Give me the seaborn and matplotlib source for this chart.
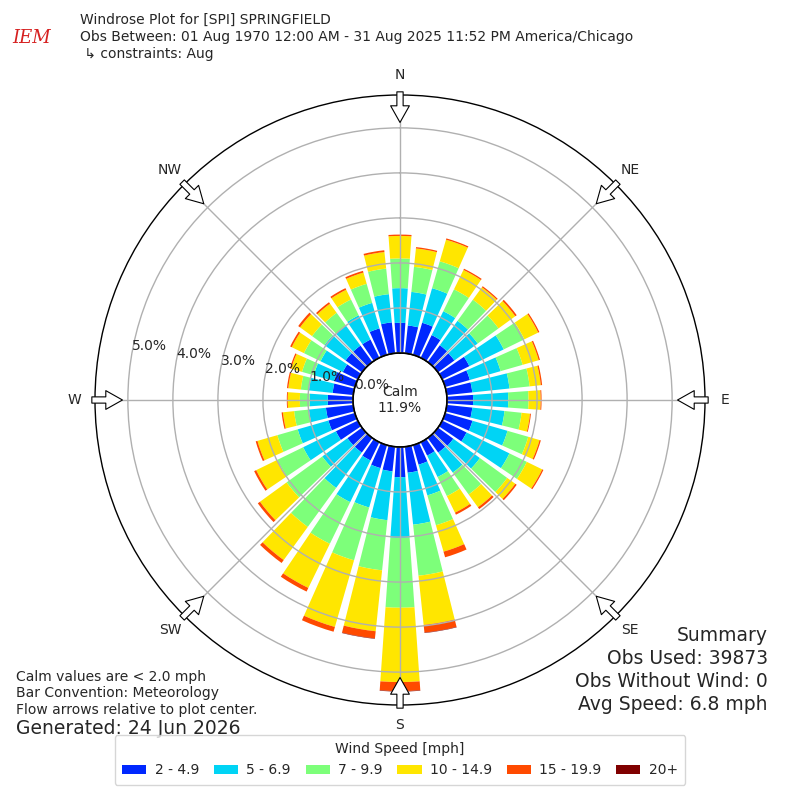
import numpy as np
import matplotlib
matplotlib.use("Agg")
import matplotlib.pyplot as plt
from matplotlib.patches import Patch, Circle
import seaborn as sns

# wind direction bins (deg, meteorological: direction wind comes from)
directions = np.arange(0, 360, 10)

# frequency (%) per speed class
speed_2_5 = [0.67, 0.62, 0.74, 0.56, 0.46, 0.45, 0.67, 0.57, 0.57, 0.58,
             0.57, 0.63, 0.60, 0.42, 0.40, 0.33, 0.45, 0.58, 0.67,
             0.55, 0.53, 0.45, 0.40, 0.40, 0.54, 0.61, 0.61, 0.56,
             0.46, 0.48, 0.37, 0.45, 0.45, 0.45, 0.61, 0.69]
speed_5_7 = [0.77, 0.75, 0.80, 0.59, 0.67, 0.64, 0.85, 0.71, 0.83, 0.78,
             0.72, 0.81, 1.06, 0.73, 0.55, 0.53, 0.71, 1.16, 1.35,
             1.09, 0.91, 1.03, 0.97, 0.69, 0.81, 0.71, 0.38, 0.40,
             0.53, 0.47, 0.55, 0.58, 0.55, 0.60, 0.59, 0.63]
speed_7_10 = [0.66, 0.56, 0.62, 0.54, 0.58, 0.57, 0.51, 0.51, 0.45, 0.45,
              0.38, 0.48, 0.43, 0.75, 0.60, 0.47, 0.69, 1.14, 1.55,
              1.12, 1.22, 1.03, 1.07, 0.98, 0.64, 0.47, 0.33, 0.22,
              0.18, 0.27, 0.41, 0.34, 0.35, 0.39, 0.44, 0.57]
speed_10_15 = [0.50, 0.41, 0.50, 0.48, 0.34, 0.46, 0.34, 0.37, 0.25, 0.27,
               0.19, 0.26, 0.38, 0.22, 0.35, 0.41, 0.61, 1.10, 1.65,
               1.36, 1.54, 1.09, 0.91, 0.73, 0.52, 0.46, 0.25, 0.27,
               0.28, 0.25, 0.30, 0.33, 0.25, 0.24, 0.26, 0.37]
speed_15_20 = [0.03, 0.03, 0.03, 0.03, 0.03, 0.04, 0.03, 0.03, 0.03, 0.02,
               0.02, 0.03, 0.03, 0.04, 0.05, 0.05, 0.13, 0.17, 0.20,
               0.16, 0.11, 0.09, 0.08, 0.06, 0.05, 0.04, 0.03, 0.02,
               0.03, 0.03, 0.04, 0.05, 0.04, 0.04, 0.04, 0.04]
speed_20p = [0.0] * 17 + [0.01, 0.01, 0.01] + [0.0] * 16

speed_labels = ["2 - 4.9", "5 - 6.9", "7 - 9.9", "10 - 14.9", "15 - 19.9", "20+"]
speed_colors = ["#0028ff", "#00d4f5", "#7dff7a", "#ffe600", "#ff4a00", "#800000"]

compass_names = ["N", "NE", "E", "SE", "S", "SW", "W", "NW"]
compass_deg = [0, 45, 90, 135, 180, 225, 270, 315]
ring_ticks = [0, 1, 2, 3, 4, 5]

calm_pct = 11.9
obs_used = 39873
obs_no_wind = 0
avg_speed = 6.8

sns.set_style("white")
palette = sns.color_palette(speed_colors)
plt.rcParams["font.family"] = ["DejaVu Sans"]

r_origin = -1.044
r_max = 5.73

fig = plt.figure(figsize=(8, 8), dpi=100)
ax = fig.add_axes([0.11875, 0.11875, 0.7625, 0.7625], projection="polar")
ax.set_theta_zero_location("N")
ax.set_theta_direction(-1)
ax.set_rorigin(r_origin)
ax.set_ylim(0, r_max)

theta = np.deg2rad(directions)
width = np.deg2rad(10) * 0.8
bottom = np.zeros(len(directions))
for vals, col in zip([speed_2_5, speed_5_7, speed_7_10, speed_10_15,
                      speed_15_20, speed_20p], palette):
    vals = np.array(vals)
    ax.bar(theta, vals, width=width, bottom=bottom, color=col,
           edgecolor="none", linewidth=0, zorder=1)
    bottom += vals

ax.set_axisbelow(False)
ax.grid(True, color="#b0b0b0", linewidth=1.0)
ax.set_thetagrids(compass_deg, labels=[""] * 8)
ax.set_rgrids(ring_ticks, labels=[f"{t:.1f}%" for t in ring_ticks], angle=280)
ax.tick_params(axis="y", labelsize=10)
for lab in ax.get_yticklabels():
    lab.set_horizontalalignment("left")
    lab.set_verticalalignment("bottom")
for sp in ax.spines.values():
    sp.set_color("black")
    sp.set_linewidth(1.0)

# calm circle outline (inner edge of the radial axis)
calm_r = 0.5 * (0 - r_origin) / (r_max - r_origin)
ax.add_patch(Circle((0.5, 0.5), calm_r, transform=ax.transAxes, fill=False,
                    ec="black", lw=1.2, zorder=4, clip_on=False))

# compass labels and inward flow arrows
for name, deg in zip(compass_names, compass_deg):
    t = np.deg2rad(deg)
    ax.text(t, 6.18, name, ha="center", va="center", fontsize=10,
            clip_on=False)
    ax.annotate("", xy=(t, 5.12), xytext=(t, 5.80),
                arrowprops=dict(arrowstyle="simple,head_length=1.2,head_width=1.35,tail_width=0.45",
                                fc="white", ec="black", lw=0.8,
                                shrinkA=0, shrinkB=0),
                annotation_clip=False, zorder=5)

ax.text(0, r_origin, f"Calm\n{calm_pct:.1f}%", ha="center", va="center",
        fontsize=10, zorder=6)

# header
fig.text(0.1, 0.975, "Windrose Plot for [SPI] SPRINGFIELD", fontsize=10, va="center")
fig.text(0.1, 0.954, "Obs Between: 01 Aug 1970 12:00 AM - 31 Aug 2025 11:52 PM America/Chicago",
         fontsize=10, va="center")
fig.text(0.1, 0.9325, " \u21b3 constraints: Aug", fontsize=10, va="center")
fig.text(0.04, 0.953, "IEM", fontsize=13, color="#d62020", style="italic",
         family="DejaVu Serif", ha="center", va="center")

# footer, left
fig.text(0.02, 0.154, "Calm values are < 2.0 mph", fontsize=10, va="center")
fig.text(0.02, 0.134, "Bar Convention: Meteorology", fontsize=10, va="center")
fig.text(0.02, 0.1125, "Flow arrows relative to plot center.", fontsize=10, va="center")
fig.text(0.02, 0.089, "Generated: 24 Jun 2026", fontsize=13.5, va="center")

# footer, right
summary = ["Summary", f"Obs Used: {obs_used}", f"Obs Without Wind: {obs_no_wind}",
           f"Avg Speed: {avg_speed} mph"]
for i, line in enumerate(summary):
    fig.text(0.96, 0.206 - i * 0.029, line, fontsize=13.5, ha="right", va="center")

handles = [Patch(facecolor=c, edgecolor="none") for c in palette]
fig.legend(handles, speed_labels, loc="lower center", bbox_to_anchor=(0.5, 0.01),
           ncol=6, title="Wind Speed [mph]", fontsize=10, title_fontsize=10,
           frameon=True, handlelength=1.75, handleheight=0.6, handletextpad=0.6,
           columnspacing=1.05, borderpad=0.55)

fig.savefig("out.png", dpi=100)
